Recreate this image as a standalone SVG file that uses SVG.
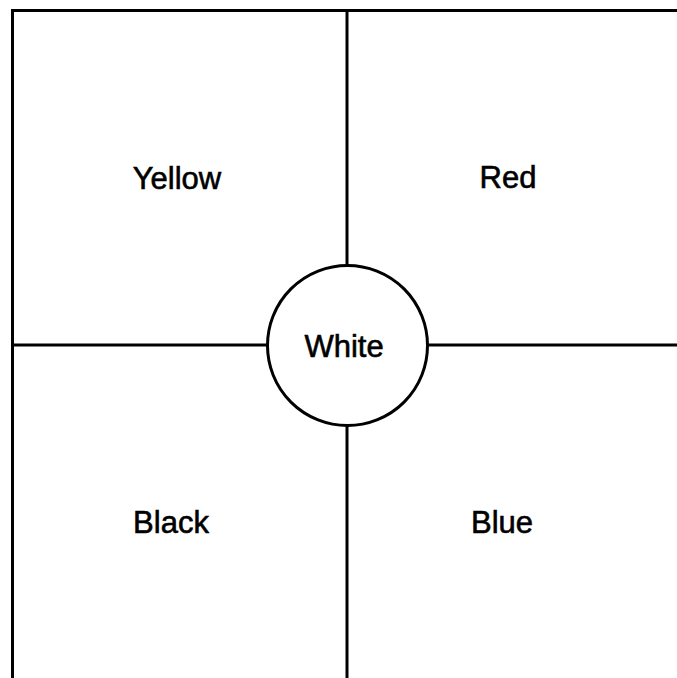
<svg xmlns="http://www.w3.org/2000/svg" width="677" height="678" viewBox="0 0 677 678">
<style>
.ln{stroke:#000;stroke-width:3;fill:none;stroke-linecap:square}
.lbl{font-family:"Liberation Sans",Arial,sans-serif;font-size:31px;fill:#000;stroke:#000;stroke-width:0.6;text-anchor:middle}
</style>
<rect width="677" height="678" fill="#fff"/>
<g id="connectors">
<path class="ln" d="M12.5 10.5H680M12.5 10.5V680M12.5 345H680M347 10.5V680"/>
</g>
<g id="yellow"><text class="lbl" x="177" y="189">Yellow</text></g>
<g id="red"><text class="lbl" x="508" y="188">Red</text></g>
<g id="black"><text class="lbl" x="171" y="533">Black</text></g>
<g id="blue"><text class="lbl" x="502" y="533">Blue</text></g>
<g id="white">
<circle cx="347.5" cy="345.5" r="80" fill="#fff" stroke="#000" stroke-width="3"/>
<text class="lbl" x="344" y="357">White</text>
</g>
</svg>
